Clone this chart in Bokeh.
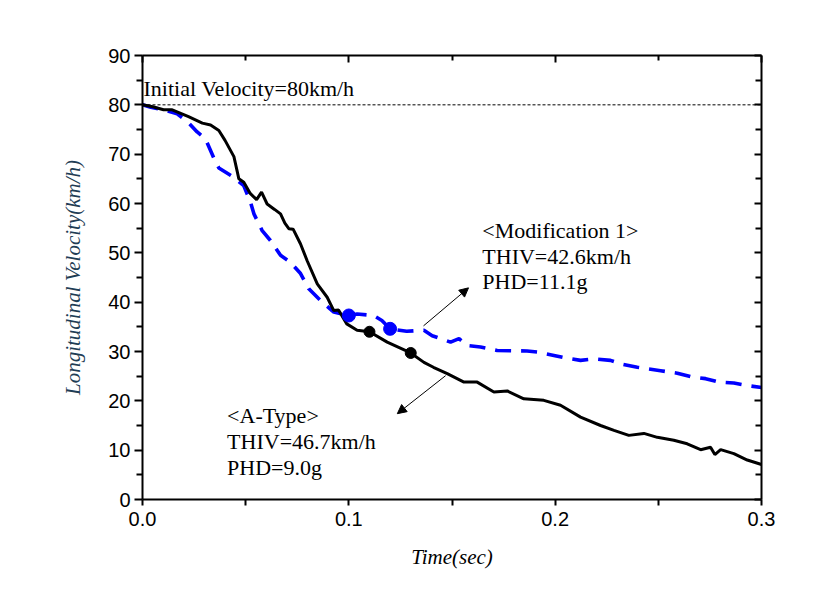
from bokeh.plotting import figure
from bokeh.models import (FixedTicker, PrintfTickFormatter, LinearAxis, Label, Arrow,
                          NormalHead, Range1d, Span)
from bokeh.embed import file_html
from bokeh.resources import INLINE

# ---------------- data ----------------
a_type_t = [0, 0.005, 0.0102, 0.0144, 0.0223, 0.029, 0.033, 0.037, 0.040, 0.0443, 0.0459,
            0.0467, 0.0491, 0.0523, 0.0553, 0.0577, 0.0604, 0.0640, 0.0669, 0.0690, 0.0709,
            0.0730, 0.0766, 0.0798, 0.0847, 0.0895, 0.0927, 0.0950, 0.0990, 0.1040, 0.1100,
            0.1186, 0.1300, 0.1364, 0.1410, 0.1477, 0.1558, 0.1622, 0.1703, 0.1768, 0.1848,
            0.1945, 0.2026, 0.2123, 0.2220, 0.2285, 0.2357, 0.2430, 0.2495, 0.2575, 0.2640,
            0.2705, 0.2753, 0.2774, 0.2802, 0.2866, 0.2931, 0.3000]
a_type_v = [80.0, 79.6, 79.0, 79.0, 77.6, 76.3, 75.9, 74.8, 72.8, 69.5, 66.5,
            65.0, 64.3, 62.0, 60.8, 62.3, 59.9, 58.8, 57.9, 56.0, 54.9,
            54.8, 51.8, 48.4, 43.7, 41.0, 38.3, 38.4, 35.6, 34.3, 34.0,
            31.9, 29.7, 27.8, 26.8, 25.5, 23.8, 23.8, 21.8, 22.0, 20.4,
            20.1, 19.1, 16.7, 15.0, 14.0, 13.0, 13.4, 12.6, 12.0, 11.3,
            10.1, 10.6, 9.1, 10.1, 9.3, 8.0, 7.1]

mod1_t = [0, 0.004, 0.010, 0.0168, 0.0220, 0.0265, 0.0305, 0.0346, 0.037, 0.0443, 0.0491,
          0.0523, 0.054, 0.058, 0.062, 0.0669, 0.0717, 0.0766, 0.0806, 0.0871, 0.0927,
          0.100, 0.104, 0.112, 0.116, 0.120, 0.128, 0.1364, 0.1404, 0.1493, 0.1534,
          0.1574, 0.1638, 0.1719, 0.1864, 0.1913, 0.1994, 0.205, 0.2123, 0.2188, 0.2268,
          0.2317, 0.2398, 0.2511, 0.2592, 0.2656, 0.2729, 0.2794, 0.2866, 0.2931, 0.300]
mod1_v = [80.0, 79.5, 79.0, 78.2, 76.5, 74.5, 73.1, 69.2, 67.2, 65.3, 63.6,
          60.3, 57.9, 54.5, 52.5, 49.5, 48.1, 45.8, 42.7, 40.0, 38.0,
          37.3, 37.6, 37.3, 36.3, 34.6, 34.1, 34.3, 33.2, 31.9, 32.6,
          31.2, 30.9, 30.2, 30.1, 29.9, 29.2, 28.7, 28.2, 28.5, 28.2,
          27.5, 26.8, 26.1, 25.6, 24.9, 24.5, 23.8, 23.6, 23.1, 22.7]

a_type_mark_t = [0.110, 0.130]
a_type_mark_v = [34.0, 29.7]
mod1_mark_t = [0.100, 0.120]
mod1_mark_v = [37.3, 34.6]

initial_velocity = 80
x_ticks = [0.0, 0.1, 0.2, 0.3]
x_minor = [0.05, 0.15, 0.25]
y_ticks = list(range(0, 100, 10))
y_minor = list(range(5, 90, 10))

mod1_lines = ["<Modification 1>", "THIV=42.6km/h", "PHD=11.1g"]
a_type_lines = ["<A-Type>", "THIV=46.7km/h", "PHD=9.0g"]

# ---------------- figure ----------------
p = figure(width=834, height=598, output_backend="svg", toolbar_location=None,
           x_range=Range1d(0, 0.3), y_range=Range1d(0, 90),
           min_border_left=142, min_border_right=73, min_border_top=55, min_border_bottom=99)
p.xgrid.visible = False
p.ygrid.visible = False
p.outline_line_color = None
p.background_fill_color = "white"
p.border_fill_color = "white"

tick_font = "Liberation Sans"
serif = "Liberation Serif"

xt = FixedTicker(ticks=x_ticks, minor_ticks=x_minor)
yt = FixedTicker(ticks=y_ticks, minor_ticks=y_minor)

xa = p.xaxis[0]
xa.ticker = xt
xa.formatter = PrintfTickFormatter(format="%.1f")
xa.axis_label = "Time(sec)"
ya = p.yaxis[0]
ya.ticker = yt
ya.formatter = PrintfTickFormatter(format="%d")
ya.axis_label = "Longitudinal Velocity(km/h)"

for ax in (xa, ya):
    ax.axis_line_width = 2
    ax.axis_line_color = "black"
    ax.major_tick_line_width = 2
    ax.minor_tick_line_width = 2
    ax.major_tick_in = 0
    ax.minor_tick_in = 0
    ax.major_label_text_font = tick_font
    ax.major_label_text_font_size = "20px"
    ax.major_label_text_color = "black"
    ax.axis_label_text_font = serif
    ax.axis_label_text_font_style = "italic"
    ax.axis_label_text_font_size = "21px"
xa.major_tick_out = 6
xa.minor_tick_out = 6
xa.major_label_standoff = 6
xa.axis_label_standoff = 16
xa.axis_label_text_color = "black"
ya.major_tick_out = 8
ya.minor_tick_out = 6
ya.major_label_standoff = 4
ya.axis_label_standoff = 20
ya.axis_label_text_color = "#1f3d55"

for loc, tk in (("right", yt), ("above", xt)):
    ax = LinearAxis(ticker=tk)
    ax.axis_line_width = 2
    ax.major_tick_line_width = 2
    ax.minor_tick_line_width = 2
    ax.major_tick_out = 0
    ax.minor_tick_out = 0
    ax.major_tick_in = 7
    ax.minor_tick_in = 6 if loc == "right" else 5
    ax.major_label_text_font_size = "0px"
    ax.major_label_text_color = None
    p.add_layout(ax, loc)

# reference line
p.add_layout(Span(location=initial_velocity, dimension="width", line_color="black",
                  line_width=1, line_dash="3 2"))

# curves
p.line(mod1_t, mod1_v, line_color="#0000ff", line_width=3.6, line_dash="16 10")
p.line(a_type_t, a_type_v, line_color="black", line_width=3)
p.scatter(mod1_mark_t, mod1_mark_v, size=13, fill_color="#0000ff", line_color="#0000ff")
p.scatter(a_type_mark_t, a_type_mark_v, size=11, fill_color="black", line_color="black")

# arrows
p.add_layout(Arrow(end=NormalHead(size=9, fill_color="black", line_color="black", line_width=1),
                   x_start=0.1362, y_start=35.2, x_end=0.1580, y_end=42.9,
                   line_color="black", line_width=1))
p.add_layout(Arrow(end=NormalHead(size=9, fill_color="black", line_color="black", line_width=1),
                   x_start=0.1469, y_start=25.1, x_end=0.1235, y_end=17.4,
                   line_color="black", line_width=1))

# texts
def add_label(x, y, txt):
    p.add_layout(Label(x=x, y=y, text=txt, text_font=serif, text_font_size="22px",
                       text_color="black", text_baseline="alphabetic", text_align="left"))

add_label(0.0005, 83.3, "Initial Velocity=80km/h")
for i, s in enumerate(mod1_lines):
    add_label(0.1647, 54.5 - 5.2 * i, s)
for i, s in enumerate(a_type_lines):
    add_label(0.041, 17.1 - 5.35 * i, s)

open("out.html", "w").write(file_html(p, INLINE))
